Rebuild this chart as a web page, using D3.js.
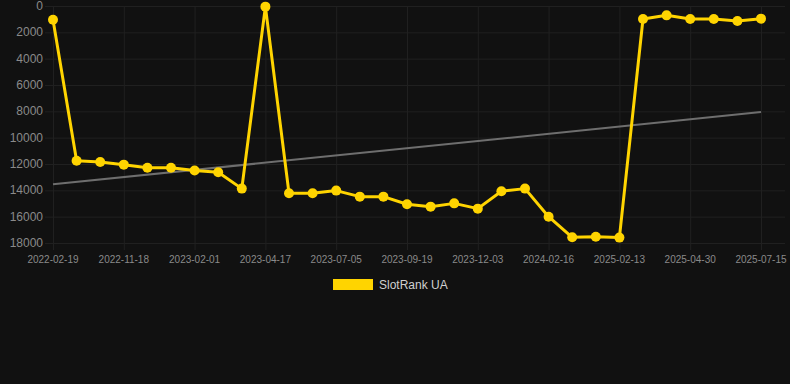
<!DOCTYPE html>
<html><head><meta charset="utf-8">
<script src="https://cdn.jsdelivr.net/npm/d3@7"></script>
<style>html,body{margin:0;padding:0;background:#111111;}svg{display:block;}</style>
</head><body>
<svg id="c" width="790" height="384"></svg>
<script>
const dates = ["2022-02-19","2022-03-15","2022-10-20","2022-11-18","2022-12-10","2023-01-05","2023-02-01","2023-02-20","2023-03-20","2023-04-17","2023-05-10","2023-06-05","2023-07-05","2023-08-01","2023-08-25","2023-09-19","2023-10-15","2023-11-08","2023-12-03","2023-12-28","2024-01-20","2024-02-16","2024-05-10","2024-10-20","2025-02-13","2025-03-05","2025-03-25","2025-04-30","2025-05-25","2025-06-20","2025-07-15"];
const ranks = [1050,11750,11850,12050,12280,12280,12500,12630,13870,50,14220,14220,14020,14480,14480,15060,15240,14990,15390,14070,13870,16000,17570,17520,17590,990,710,990,990,1140,960];
const yTicks = [0,2000,4000,6000,8000,10000,12000,14000,16000,18000];
const xTickLabels = ["2022-02-19","2022-11-18","2023-02-01","2023-04-17","2023-07-05","2023-09-19","2023-12-03","2024-02-16","2025-02-13","2025-04-30","2025-07-15"];
const seriesName = "SlotRank UA";

(function () {
const svg = d3.select("#c");
const pLeft = 53, pRight = 761, pTop = 6, pBottom = 243;
const x = d3.scalePoint().domain(dates).range([pLeft, pRight]);
const y = d3.scaleLinear().domain([0, 18000]).range([pTop, pBottom]);
const grid = "#202020", txt = "#8a8a8a", gold = "#FFD400";
const font = "Liberation Sans, Arial, Helvetica, sans-serif";

svg.append("g").selectAll("line").data(yTicks).join("line")
  .attr("x1", pLeft - 8).attr("x2", 785)
  .attr("y1", d => y(d) + 0.5).attr("y2", d => y(d) + 0.5)
  .attr("stroke", grid).attr("stroke-width", 1);
svg.append("g").selectAll("line").data(xTickLabels).join("line")
  .attr("x1", d => x(d) + 0.5).attr("x2", d => x(d) + 0.5)
  .attr("y1", pTop).attr("y2", pBottom + 7)
  .attr("stroke", grid).attr("stroke-width", 1);

svg.append("g").selectAll("text").data(yTicks).join("text")
  .attr("x", 43).attr("y", d => y(d) + 4)
  .attr("text-anchor", "end").attr("fill", txt)
  .attr("font-family", font).attr("font-size", 12)
  .text(d => d);
svg.append("g").selectAll("text").data(xTickLabels).join("text")
  .attr("x", d => x(d)).attr("y", 263)
  .attr("text-anchor", "middle").attr("fill", txt)
  .attr("font-family", font).attr("font-size", 10)
  .text(d => d);

const n = ranks.length;
const idx = d3.range(n);
const mx = d3.mean(idx), my = d3.mean(ranks);
const slope = d3.sum(idx, i => (i - mx) * (ranks[i] - my)) / d3.sum(idx, i => (i - mx) ** 2);
const icpt = my - slope * mx;
svg.append("line")
  .attr("x1", x(dates[0])).attr("y1", y(icpt))
  .attr("x2", x(dates[n - 1])).attr("y2", y(icpt + slope * (n - 1)))
  .attr("stroke", "#6e6e6e").attr("stroke-width", 2);

const line = d3.line().x((d, i) => x(dates[i])).y(d => y(d));
svg.append("path").datum(ranks).attr("d", line)
  .attr("fill", "none").attr("stroke", gold).attr("stroke-width", 3)
  .attr("stroke-linejoin", "round");
svg.append("g").selectAll("circle").data(ranks).join("circle")
  .attr("cx", (d, i) => x(dates[i])).attr("cy", d => y(d))
  .attr("r", 5).attr("fill", gold);

svg.append("rect").attr("x", 333).attr("y", 279).attr("width", 40).attr("height", 11)
  .attr("fill", gold);
svg.append("text").attr("x", 379).attr("y", 289)
  .attr("fill", "#d0d0d0").attr("font-family", font).attr("font-size", 12)
  .text(seriesName);
})();
</script>
</body></html>
